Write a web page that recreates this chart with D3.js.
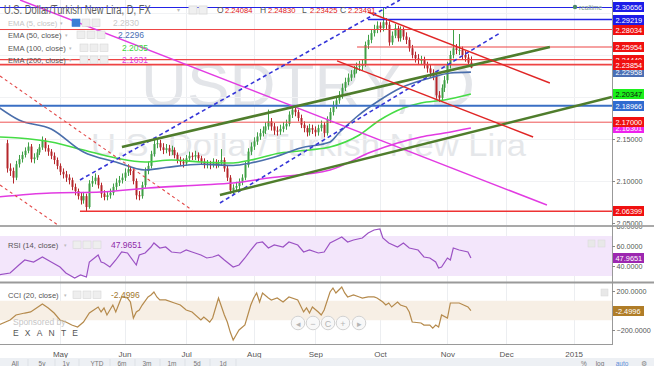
<!DOCTYPE html>
<html><head><meta charset="utf-8">
<script src="https://cdn.jsdelivr.net/npm/d3@7"></script>
<style>
html,body{margin:0;padding:0;background:#fff;}
svg{display:block;font-family:"Liberation Sans",Arial,sans-serif;}
</style></head><body>
<svg id="c" width="654" height="366"></svg>
<script>
// ---------- DATA ----------
// daily candles, trading-day index 0 = 2014-04-07
const firstOpen = 2.145;
const closes = [
2.115,2.112,2.104,2.120,2.126,2.131,2.136,2.141,2.126,2.128,
2.134,2.140,2.148,2.139,2.135,2.130,2.125,2.118,2.111,2.108,
2.104,2.101,2.093,2.088,2.082,2.077,2.082,2.069,2.097,2.100,
2.104,2.095,2.085,2.081,2.083,2.086,2.093,2.098,2.101,2.104,
2.110,2.114,2.112,2.100,2.083,2.082,2.095,2.112,2.118,2.132,
2.144,2.145,2.140,2.137,2.139,2.135,2.137,2.131,2.125,2.123,
2.121,2.127,2.130,2.129,2.131,2.127,2.123,2.119,2.121,2.119,
2.123,2.119,2.121,2.125,2.115,2.104,2.089,2.092,2.094,2.099,
2.104,2.119,2.135,2.141,2.147,2.153,2.157,2.160,2.165,2.171,
2.165,2.160,2.159,2.162,2.165,2.168,2.179,2.185,2.182,2.175,
2.167,2.163,2.158,2.163,2.161,2.158,2.163,2.167,2.157,2.173,
2.182,2.190,2.196,2.202,2.211,2.218,2.223,2.227,2.232,2.236,
2.237,2.239,2.262,2.268,2.276,2.280,2.285,2.282,2.289,2.286,
2.265,2.273,2.282,2.270,2.280,2.272,2.268,2.258,2.250,2.246,
2.244,2.244,2.238,2.234,2.229,2.225,2.202,2.199,2.211,2.220,
2.238,2.250,2.258,2.256,2.256,2.250,2.247,2.24084,2.23491];
const highs = [
2.149,2.121,2.116,2.124,2.131,2.135,2.140,2.146,2.144,2.133,
2.138,2.144,2.153,2.151,2.143,2.138,2.134,2.128,2.121,2.115,
2.112,2.108,2.104,2.097,2.091,2.086,2.087,2.085,2.101,2.106,
2.109,2.107,2.098,2.089,2.088,2.091,2.097,2.103,2.106,2.109,
2.115,2.120,2.118,2.115,2.103,2.088,2.099,2.116,2.123,2.136,
2.150,2.151,2.149,2.145,2.144,2.143,2.142,2.140,2.134,2.129,
2.127,2.131,2.135,2.134,2.136,2.134,2.130,2.127,2.125,2.124,
2.127,2.126,2.125,2.138,2.128,2.118,2.107,2.096,2.099,2.103,
2.108,2.123,2.139,2.146,2.152,2.158,2.162,2.165,2.170,2.185,
2.175,2.169,2.165,2.167,2.170,2.173,2.183,2.190,2.189,2.185,
2.179,2.171,2.166,2.168,2.167,2.165,2.167,2.172,2.170,2.177,
2.187,2.195,2.201,2.207,2.216,2.223,2.228,2.232,2.237,2.241,
2.243,2.245,2.266,2.274,2.281,2.286,2.290,2.289,2.3066,2.294,
2.290,2.278,2.287,2.285,2.284,2.283,2.277,2.271,2.262,2.254,
2.251,2.249,2.248,2.242,2.238,2.233,2.228,2.207,2.215,2.225,
2.242,2.255,2.280,2.263,2.275,2.260,2.255,2.251,2.2483];
const lows = [
2.110,2.106,2.097,2.101,2.116,2.122,2.128,2.133,2.122,2.121,
2.125,2.131,2.137,2.135,2.130,2.126,2.120,2.114,2.107,2.103,
2.099,2.096,2.089,2.083,2.078,2.072,2.073,2.064,2.067,2.093,
2.096,2.091,2.080,2.077,2.077,2.079,2.083,2.089,2.094,2.097,
2.100,2.106,2.107,2.096,2.078,2.077,2.079,2.092,2.108,2.115,
2.129,2.139,2.136,2.132,2.133,2.130,2.131,2.127,2.121,2.119,
2.116,2.118,2.123,2.125,2.125,2.123,2.119,2.115,2.115,2.114,
2.116,2.115,2.116,2.118,2.111,2.100,2.085,2.084,2.088,2.090,
2.095,2.101,2.116,2.131,2.137,2.143,2.149,2.153,2.156,2.161,
2.160,2.155,2.154,2.155,2.158,2.161,2.165,2.175,2.177,2.171,
2.163,2.158,2.153,2.154,2.156,2.153,2.154,2.159,2.152,2.154,
2.169,2.178,2.186,2.192,2.198,2.207,2.214,2.219,2.223,2.228,
2.231,2.232,2.236,2.257,2.264,2.272,2.276,2.277,2.278,2.281,
2.261,2.262,2.270,2.266,2.266,2.268,2.263,2.254,2.246,2.241,
2.239,2.239,2.234,2.229,2.224,2.220,2.198,2.194,2.195,2.206,
2.216,2.234,2.246,2.251,2.250,2.245,2.242,2.237,2.23425];

// moving averages [trading-day index, price]
const ema50 = [[-3,2.1880],[4,2.1726],[15,2.1620],[26,2.1345],[37,2.1226],[47,2.1131],[54,2.1160],[66,2.1200],[77,2.1185],[83,2.1214],[90,2.1274],[100,2.1393],[110,2.1464],[113,2.1571],[119,2.1762],[127,2.1964],[134,2.2107],[144,2.2226],[151,2.2286],[158,2.2296]];
const ema100 = [[-3,2.1524],[4,2.1512],[15,2.1464],[26,2.1369],[37,2.1274],[47,2.1226],[56,2.1250],[66,2.1226],[77,2.1214],[83,2.1250],[93,2.1333],[103,2.1369],[110,2.1405],[120,2.1548],[127,2.1726],[135,2.1869],[141,2.1929],[149,2.1964],[158,2.2035]];
const ema200 = [[-3,2.0810],[15,2.0857],[32,2.0869],[48,2.0917],[66,2.0952],[77,2.0976],[89,2.1036],[110,2.1131],[124,2.1345],[133,2.1452],[141,2.1524],[149,2.1571],[158,2.1631]];

// RSI(14) and CCI(20) [trading-day index, value]
const rsi = [[-3,31],[1,33],[4,41],[6,46],[9,44],[12,49],[15,44],[18,39],[20,33],[23,28],[25,31],[27,29],[28,44],[31,51],[32,44],[33,43],[35,39],[37,46],[39,54],[41,53],[44,41],[45,51],[47,53],[49,59],[50,63],[52,58],[54,59],[56,54],[59,53],[61,56],[63,54],[66,51],[68,48],[70,49],[72,51],[74,46],[77,39],[79,41],[81,48],[83,56],[85,63],[87,64],[89,58],[91,61],[94,59],[96,64],[99,61],[101,54],[103,56],[106,53],[108,54],[110,63],[112,66],[114,69],[116,64],[118,66],[121,68],[123,73],[125,76],[127,77],[128,68],[130,63],[133,59],[135,63],[137,58],[140,56],[142,49],[144,48],[146,44],[147,38],[148,39],[150,48],[151,46],[152,58],[154,56],[157,54],[158,47.9651]];
const cci = [[-3,-149],[1,-97],[3,-46],[6,-26],[8,-15],[10,26],[12,67],[14,26],[16,-26],[18,-97],[20,-118],[22,-149],[24,-169],[26,-118],[28,-26],[31,36],[32,-15],[33,26],[34,-46],[36,56],[37,-15],[39,139],[41,128],[42,87],[43,-77],[44,-15],[45,5],[46,56],[48,139],[49,159],[50,190],[51,139],[52,108],[54,108],[57,77],[59,56],[61,5],[63,-15],[66,-97],[67,-67],[69,-118],[70,-77],[72,128],[74,-46],[75,-118],[76,-221],[77,-303],[78,-251],[79,-200],[81,-149],[83,56],[84,128],[85,180],[86,87],[87,180],[89,128],[90,108],[92,128],[94,87],[96,139],[99,108],[101,-15],[102,26],[103,-26],[104,36],[106,-15],[107,-46],[108,5],[110,190],[111,231],[112,180],[113,210],[114,241],[115,180],[116,139],[118,159],[120,139],[121,128],[123,139],[125,139],[126,128],[128,87],[129,56],[130,77],[131,36],[133,87],[134,56],[136,36],[137,-15],[138,-118],[141,-128],[142,-149],[144,-149],[145,-180],[146,-149],[147,-169],[148,-46],[150,-77],[151,77],[153,77],[154,77],[157,36],[158,-2.4996]];

// drawn levels (price, start index or null = full width)
const hLevels = [2.30656, 2.29219, 2.28034, 2.25954, 2.24440, 2.23854, 2.18966, 2.17000, 2.06399];
const hLevelStart = [null, 122.9, null, 119.2, null, null, null, null, 24.8];
// trend lines [index1, price1, index2, price2]
const redDashed = [[-2.44,2.2250,62.97,2.0655],[-2.44,2.0952,17.3,2.0476]];
const blueDashed = [[24.8,2.1012,133.8,2.3155],[72.5,2.0738,167.9,2.2762]];
const greenLines = [[39.1,2.1405,184.9,2.2595],[72.5,2.0833,206.0,2.2000]];
const redChannel = [[122.9,2.3012,184.9,2.2167],[112.4,2.2429,179.2,2.1524]];
const magentaLine = [[4.4,2.3155,183.9,2.0714]];

// axis ticks
const monthLabels = ["May","Jun","Jul","Aug","Sep","Oct","Nov","Dec","2015"];
const monthIdx = [18,40,61,84,105,127,150,170,193];
const priceTicks = [2.15, 2.10, 2.05];
const rsiTicks = [80, 60, 40];
const cciTicks = [200, -200];
const rangeButtons = ["All","5y","1y","YTD","6m","3m","1m","5d","1d"];
const ohlcLabels = ["O","H","L","C"];
const ohlcValues = ["2.24084","2.24830","2.23425","2.23491"];
const legendNames = ["EMA (5, close)","EMA (50, close)","EMA (100, close)","EMA (200, close)"];
const legendValues = ["2.2830","2.2296","2.2035","2.1631"];

// ---------- CHART ----------
const svg = d3.select("#c");
const PR = 612;
const x = d3.scaleLinear().domain([-2.443, 206.07]).range([0, PR]);
const y = d3.scaleLinear().domain([2.04762, 2.31548]).range([225, 0]);
const yR = d3.scaleLinear().domain([40, 60]).range([266, 246]);
const yC = d3.scaleLinear().domain([-200, 200]).range([330, 291]);

const defs = svg.append("defs");
defs.append("clipPath").attr("id","cm").append("rect").attr("x",0).attr("y",0).attr("width",PR).attr("height",225);
defs.append("clipPath").attr("id","cr").append("rect").attr("x",0).attr("y",227).attr("width",PR).attr("height",55);
defs.append("clipPath").attr("id","cc").append("rect").attr("x",0).attr("y",284).attr("width",PR).attr("height",60);
defs.append("clipPath").attr("id","am").append("rect").attr("x",PR).attr("y",0).attr("width",42).attr("height",225);
defs.append("clipPath").attr("id","ar").append("rect").attr("x",PR).attr("y",227).attr("width",42).attr("height",55);

// watermark
svg.append("text").attr("x",141).attr("y",106).attr("font-size",62).attr("fill","#e3e5e9")
  .attr("textLength",334).attr("lengthAdjust","spacingAndGlyphs").text("USDTRY, D");
svg.append("text").attr("x",91).attr("y",156).attr("font-size",31).attr("fill","#e5e7ea")
  .attr("textLength",435).attr("lengthAdjust","spacingAndGlyphs").text("U.S. Dollar/Turkish New Lira");

// grid
svg.append("g").selectAll("line").data(monthIdx).join("line")
  .attr("x1",d=>Math.round(x(d))+0.5).attr("x2",d=>Math.round(x(d))+0.5).attr("y1",0).attr("y2",344)
  .attr("stroke","#eceef1").attr("stroke-width",1);
svg.append("g").selectAll("line").data([2.10,2.15,2.20,2.25,2.30]).join("line")
  .attr("x1",0).attr("x2",PR).attr("y1",d=>Math.round(y(d))+0.5).attr("y2",d=>Math.round(y(d))+0.5)
  .attr("stroke","#f1f2f4");

// RSI / CCI bands
svg.append("rect").attr("x",0).attr("width",PR).attr("y",yR(70)).attr("height",yR(30)-yR(70)).attr("fill","#f3e6fb");
svg.append("rect").attr("x",0).attr("width",PR).attr("y",yC(100)).attr("height",yC(-100)-yC(100)).attr("fill","#f7efe5");

const main = svg.append("g").attr("clip-path","url(#cm)");

// candles
const opens = closes.map((c,i)=> i===0 ? firstOpen : closes[i-1]);
const candles = closes.map((c,i)=>({i, o:opens[i], h:highs[i], l:lows[i], c}));
const upC = "#3f9f45", dnC = "#b5262b";
main.append("g").selectAll("line").data(candles).join("line")
  .attr("x1",d=>Math.round(x(d.i))+0.5).attr("x2",d=>Math.round(x(d.i))+0.5)
  .attr("y1",d=>y(d.h)).attr("y2",d=>y(d.l))
  .attr("stroke",d=>d.c>=d.o?upC:dnC).attr("stroke-width",1);
main.append("g").selectAll("rect").data(candles).join("rect")
  .attr("x",d=>Math.round(x(d.i))-0.5).attr("width",2)
  .attr("y",d=>y(Math.max(d.o,d.c))).attr("height",d=>Math.max(1, Math.abs(y(d.o)-y(d.c))))
  .attr("fill",d=>d.c>=d.o?upC:dnC);

// EMAs
const emaLine = d3.line().x(d=>x(d[0])).y(d=>y(d[1])).curve(d3.curveMonotoneX);
main.append("path").attr("d",emaLine(ema200)).attr("fill","none").attr("stroke","#e23be2").attr("stroke-width",1.6);
main.append("path").attr("d",emaLine(ema100)).attr("fill","none").attr("stroke","#45dc45").attr("stroke-width",1.6);
main.append("path").attr("d",emaLine(ema50)).attr("fill","none").attr("stroke","#4a6eab").attr("stroke-width",1.6);

// horizontal levels
const hColor = ["#2323e6","#2323e6","#ee4444","#ee4444","#ee4444","#ee4444","#3a6fc4","#ee5555","#ee3333"];
const hWidth = [1.2,1.6,1,1.2,1.2,1.6,2,1,1.6];
main.append("g").selectAll("line").data(hLevels).join("line")
  .attr("x1",(d,i)=>hLevelStart[i]===null?0:x(hLevelStart[i])).attr("x2",PR)
  .attr("y1",d=>y(d)).attr("y2",d=>y(d))
  .attr("stroke",(d,i)=>hColor[i]).attr("stroke-width",(d,i)=>hWidth[i]);

// trend lines
function drawLines(arr, color, w, dash){
  main.append("g").selectAll("line").data(arr).join("line")
    .attr("x1",d=>x(d[0])).attr("y1",d=>y(d[1])).attr("x2",d=>x(d[2])).attr("y2",d=>y(d[3]))
    .attr("stroke",color).attr("stroke-width",w).attr("stroke-dasharray",dash||null);
}
drawLines(magentaLine,"#e23be2",1.4);
drawLines(redDashed,"#e34a4a",1.1,"3,3");
drawLines(blueDashed,"#3535d8",1.6,"4,3");
drawLines(greenLines,"#4f7d2c",2.6);
drawLines(redChannel,"#e02626",1.4);

// RSI
svg.append("g").attr("clip-path","url(#cr)").append("path")
  .attr("d",d3.line().x(d=>x(d[0])).y(d=>yR(d[1]))(rsi))
  .attr("fill","none").attr("stroke","#9b52c4").attr("stroke-width",1.2);
// CCI
svg.append("g").attr("clip-path","url(#cc)").append("path")
  .attr("d",d3.line().x(d=>x(d[0])).y(d=>yC(d[1]))(cci))
  .attr("fill","none").attr("stroke","#b58a4c").attr("stroke-width",1.2);

// panel borders
svg.append("line").attr("x1",0).attr("x2",654).attr("y1",226).attr("y2",226).attr("stroke","#a9a9a9").attr("stroke-width",2);
svg.append("line").attr("x1",0).attr("x2",654).attr("y1",282.5).attr("y2",282.5).attr("stroke","#9a9a9a").attr("stroke-width",2);
svg.append("line").attr("x1",0).attr("x2",PR).attr("y1",344.5).attr("y2",344.5).attr("stroke","#9a9a9a").attr("stroke-width",1);
svg.append("line").attr("x1",PR+0.5).attr("x2",PR+0.5).attr("y1",0).attr("y2",345).attr("stroke","#999");

// right axes
const fmt5 = d3.format(".5f"), fmt4 = d3.format(".4f");
function styleAxis(g){ g.select(".domain").remove(); g.selectAll("line").attr("stroke","#888");
  g.selectAll("text").attr("fill","#555").attr("font-size",7.2).attr("font-family","Liberation Sans, Arial"); }
svg.append("g").attr("clip-path","url(#am)").append("g").attr("transform",`translate(${PR},0)`).call(d3.axisRight(y).tickValues(priceTicks).tickFormat(fmt5).tickSize(3).tickPadding(1.5)).call(styleAxis);
svg.append("g").attr("clip-path","url(#ar)").append("g").attr("transform",`translate(${PR},0)`).call(d3.axisRight(yR).tickValues(rsiTicks).tickFormat(fmt4).tickSize(3).tickPadding(1.5)).call(styleAxis);
svg.append("g").attr("transform",`translate(${PR},0)`).call(d3.axisRight(yC).tickValues(cciTicks).tickFormat(fmt4).tickSize(3).tickPadding(1.5)).call(styleAxis);

// price labels on axis
function axisLabel(yy, txt, bg, fg){
  const g = svg.append("g").attr("transform",`translate(${PR+1},${Math.round(yy)-5})`);
  g.append("rect").attr("width",31).attr("height",10).attr("fill",bg);
  g.append("text").attr("x",2.5).attr("y",7.8).attr("font-size",7.4).attr("fill",fg||"#fff").text(txt);
}
axisLabel(y(2.22958),"2.22958","#4a6fb5");
axisLabel(y(2.16301),"2.16301","#ee22ee");
axisLabel(y(2.20347),"2.20347","#1cf01c","#111");
const lblColor = ["#1b1be8","#1b1be8","#f01010","#f01010","#f01010","#f01010","#2f6bd0","#f01010","#f01010"];
hLevels.forEach((v,i)=> axisLabel(y(v), fmt5(v), lblColor[i]));
axisLabel(yR(47.9651),"47.9651","#9c27b0");
axisLabel(yC(-2.4996),"-2.4996","#b07d28");

// time axis
svg.append("g").attr("transform","translate(0,347)")
  .call(d3.axisBottom(x).tickValues(monthIdx).tickFormat((d,i)=>monthLabels[i]).tickSize(0).tickPadding(4))
  .call(g=>{g.select(".domain").remove(); g.selectAll("text").attr("fill","#555").attr("font-size",8).attr("font-family","Liberation Sans, Arial");});

// title + OHLC (narrow glyphs via horizontal scale)
svg.append("text").attr("transform","translate(4,14) scale(0.72,1)").attr("font-size",13).attr("fill","#5e5e5e")
  .text("U.S. Dollar/Turkish New Lira, D, FX");
svg.append("text").attr("x",177).attr("y",12).attr("font-size",6).attr("fill","#bbb").text("▾");
[189,199].forEach(xx=>svg.append("rect").attr("x",xx).attr("y",6).attr("width",8).attr("height",8).attr("fill","#f0f0f0").attr("stroke","#ddd"));
const ohlcX = [217,260,302,340];
ohlcLabels.forEach((l,i)=>{
  svg.append("text").attr("x",ohlcX[i]).attr("y",13).attr("font-size",8.5).attr("fill","#555").text(l);
  svg.append("text").attr("x",ohlcX[i]+8).attr("y",13).attr("font-size",7.6).attr("fill","#e01818").text(ohlcValues[i]);
});
svg.append("circle").attr("cx",575).attr("cy",7).attr("r",2.2).attr("fill","#4c8a6a");
svg.append("text").attr("x",579).attr("y",9.5).attr("font-size",6.5).attr("fill","#7a9a8a").text("realtime");

// legend
const legY = [26,38,51,63];
const legValX = [113,118,122,122];
const legValCol = ["#c9c9c9","#4a6eb5","#3dd63d","#e23be2"];
const legArrowX = [60,65,69,69];
legendNames.forEach((n,i)=>{
  const faded = i===0;
  svg.append("text").attr("x",8).attr("y",legY[i]).attr("font-size",7.6).attr("fill",faded?"#c4c4c4":"#555").text(n);
  svg.append("text").attr("x",legArrowX[i]).attr("y",legY[i]-1).attr("font-size",5).attr("fill","#bbb").text("▾");
  const bx = i===0?72:(i===1?77:80);
  [0,1,2].forEach(k=>svg.append("rect").attr("x",bx+k*10).attr("y",legY[i]-7).attr("width",8).attr("height",7.5)
     .attr("fill",(i===0&&k===0)?"#3b7fd6":"#eeeeee").attr("stroke",(i===0&&k===0)?"#3b7fd6":"#d6d6d6").attr("stroke-width",0.6));
  svg.append("text").attr("x",legValX[i]).attr("y",legY[i]).attr("font-size",8.5).attr("fill",legValCol[i]).text(legendValues[i]);
});

// indicator legends
function indLegend(yy, name, val, col){
  svg.append("text").attr("x",8).attr("y",yy).attr("font-size",7.6).attr("fill","#555").text(name);
  svg.append("text").attr("x",64).attr("y",yy-1).attr("font-size",5).attr("fill","#bbb").text("▾");
  [0,1,2].forEach(k=>svg.append("rect").attr("x",73+k*10).attr("y",yy-7).attr("width",8).attr("height",7.5).attr("fill","#eeeeee").attr("stroke","#d6d6d6").attr("stroke-width",0.6));
  svg.append("text").attr("x",111).attr("y",yy).attr("font-size",8.5).attr("fill",col).text(val);
}
indLegend(248,"RSI (14, close)","47.9651","#8e2aa8");
indLegend(298,"CCI (20, close)","-2.4996","#a2782e");
[[588,240],[598,240],[601,289]].forEach(p=>svg.append("rect").attr("x",p[0]).attr("y",p[1]).attr("width",7).attr("height",7).attr("fill","#e8e8e8").attr("stroke","#d8d8d8").attr("stroke-width",0.5));

// sponsor
svg.append("text").attr("x",13).attr("y",325).attr("font-size",8.5).attr("fill","#c6c6c6").text("Sponsored by");
svg.append("text").attr("x",13).attr("y",336).attr("font-size",8.5).attr("fill","#555").attr("letter-spacing",6.2).text("EXANTE");

// nav buttons
const navSym = ["◂","−","C","+","▸"];
[298,313,328,343,359].forEach((cx,i)=>{
  svg.append("circle").attr("cx",cx).attr("cy",323).attr("r",6.8).attr("fill","#f8f8f8").attr("stroke","#d2d2d2");
  svg.append("text").attr("x",cx).attr("y",326.5).attr("text-anchor","middle").attr("font-size",9).attr("fill","#b5b5b5").text(navSym[i]);
});

// bottom toolbar
svg.append("rect").attr("x",0).attr("y",358).attr("width",654).attr("height",8).attr("fill","#edf0f4");
const rbX = [15,42,66,97,122,147,172,197,223];
rangeButtons.forEach((t,i)=>{
  svg.append("text").attr("x",rbX[i]).attr("y",365.5).attr("text-anchor","middle").attr("font-size",6.5).attr("fill","#777").text(t);
  svg.append("line").attr("x1",rbX[i]+13).attr("x2",rbX[i]+13).attr("y1",359).attr("y2",366).attr("stroke","#dde1e6");
});
[["%",584,"#777"],["log",600,"#777"],["auto",622,"#5d8fd8"],["⚙",644,"#888"]].forEach(t=>
  svg.append("text").attr("x",t[1]).attr("y",365.5).attr("text-anchor","middle").attr("font-size",6.5).attr("fill",t[2]).text(t[0]));
</script>
</body></html>
